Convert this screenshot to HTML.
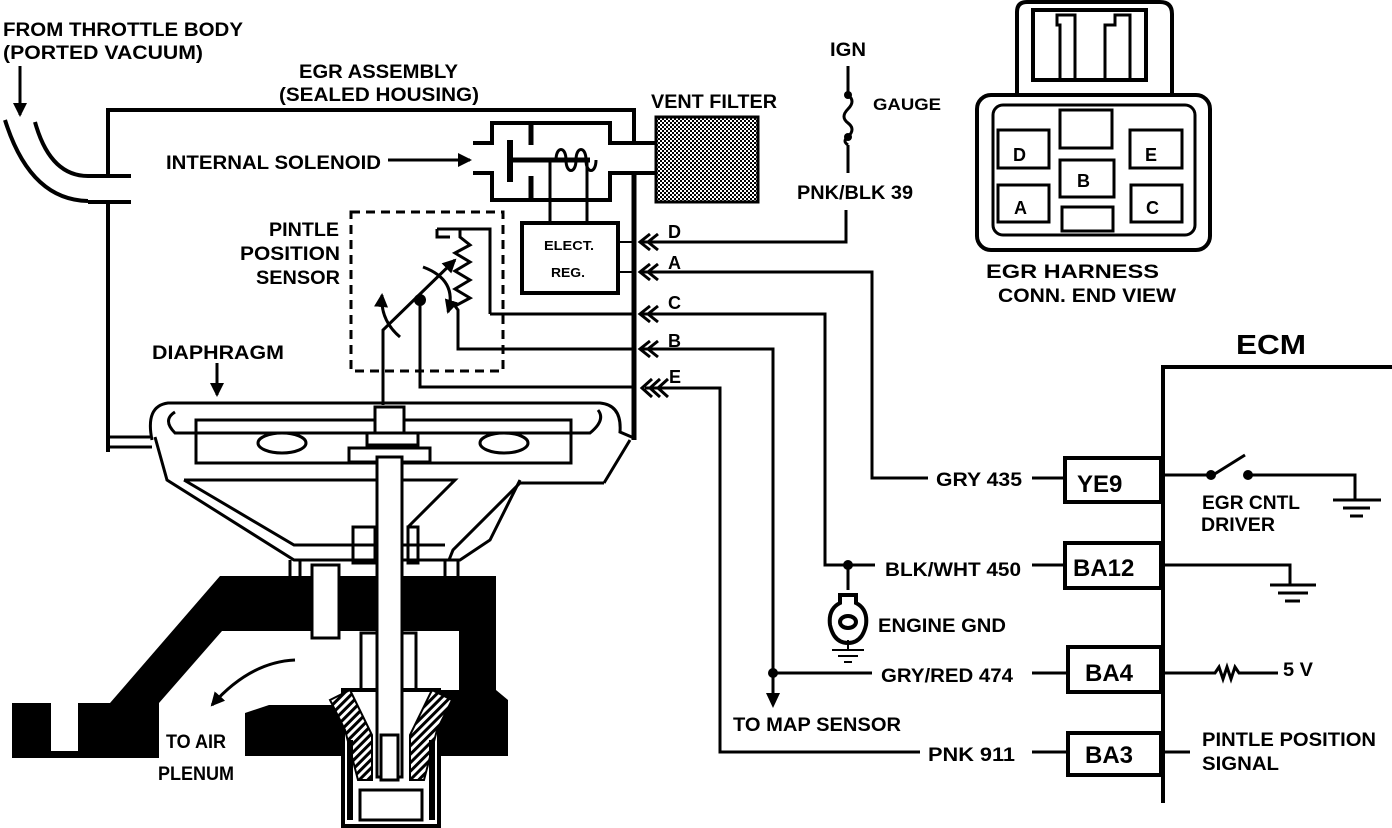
<!DOCTYPE html>
<html><head><meta charset="utf-8"><style>
html,body{margin:0;padding:0;background:#fff;}
svg{display:block}
text{font-family:"Liberation Sans",sans-serif;font-weight:bold;fill:#000;}
</style></head><body>
<svg width="1392" height="828" viewBox="0 0 1392 828" xmlns="http://www.w3.org/2000/svg">
<defs>
<pattern id="dots" width="4" height="4" patternUnits="userSpaceOnUse">
<rect width="4" height="4" fill="#fff"/><rect width="2" height="2" fill="#000"/><rect x="2" y="2" width="2" height="2" fill="#000"/>
</pattern>
<pattern id="hatch" width="6" height="6" patternUnits="userSpaceOnUse" patternTransform="rotate(45)">
<rect width="6" height="6" fill="#fff"/><rect width="3" height="6" fill="#000"/>
</pattern>
<marker id="ah2" markerWidth="14" markerHeight="14" refX="12" refY="7" orient="auto" markerUnits="userSpaceOnUse"><path d="M0,0 L14,7 L0,14 z" fill="#000"/></marker>
</defs>
<g font-size="19" lengthAdjust="spacingAndGlyphs">
<text x="3" y="36" textLength="240" lengthAdjust="spacingAndGlyphs">FROM THROTTLE BODY</text>
<text x="3" y="59" textLength="200" lengthAdjust="spacingAndGlyphs">(PORTED VACUUM)</text>
<text x="299" y="78" textLength="159" lengthAdjust="spacingAndGlyphs">EGR ASSEMBLY</text>
<text x="279" y="101" textLength="200" lengthAdjust="spacingAndGlyphs">(SEALED HOUSING)</text>
<text x="166" y="169" textLength="215" lengthAdjust="spacingAndGlyphs">INTERNAL SOLENOID</text>
<text x="269" y="236" textLength="70" lengthAdjust="spacingAndGlyphs">PINTLE</text>
<text x="240" y="260" textLength="100" lengthAdjust="spacingAndGlyphs">POSITION</text>
<text x="256" y="284" textLength="84" lengthAdjust="spacingAndGlyphs">SENSOR</text>
<text x="152" y="359" textLength="132" lengthAdjust="spacingAndGlyphs">DIAPHRAGM</text>
<text x="651" y="108" textLength="126" lengthAdjust="spacingAndGlyphs">VENT FILTER</text>
<text x="830" y="56" textLength="36" lengthAdjust="spacingAndGlyphs">IGN</text>
<text x="873" y="110" font-size="17" textLength="68" lengthAdjust="spacingAndGlyphs">GAUGE</text>
<text x="797" y="199" textLength="116" lengthAdjust="spacingAndGlyphs">PNK/BLK 39</text>
<text x="986" y="278" textLength="173" lengthAdjust="spacingAndGlyphs">EGR HARNESS</text>
<text x="998" y="302" textLength="178" lengthAdjust="spacingAndGlyphs">CONN. END VIEW</text>
<text x="1236" y="354" font-size="28" textLength="70" lengthAdjust="spacingAndGlyphs">ECM</text>
<text x="936" y="486" textLength="86" lengthAdjust="spacingAndGlyphs">GRY 435</text>
<text x="885" y="576" textLength="136" lengthAdjust="spacingAndGlyphs">BLK/WHT 450</text>
<text x="878" y="632" textLength="128" lengthAdjust="spacingAndGlyphs">ENGINE GND</text>
<text x="881" y="682" textLength="132" lengthAdjust="spacingAndGlyphs">GRY/RED 474</text>
<text x="733" y="731" textLength="168" lengthAdjust="spacingAndGlyphs">TO MAP SENSOR</text>
<text x="928" y="761" textLength="87" lengthAdjust="spacingAndGlyphs">PNK 911</text>
<text x="1202" y="509" textLength="98" lengthAdjust="spacingAndGlyphs">EGR CNTL</text>
<text x="1201" y="531" textLength="74" lengthAdjust="spacingAndGlyphs">DRIVER</text>
<text x="1283" y="676" textLength="30" lengthAdjust="spacingAndGlyphs">5 V</text>
<text x="1202" y="746" textLength="174" lengthAdjust="spacingAndGlyphs">PINTLE POSITION</text>
<text x="1202" y="770" textLength="77" lengthAdjust="spacingAndGlyphs">SIGNAL</text>
<text x="166" y="748" textLength="60" lengthAdjust="spacingAndGlyphs">TO AIR</text>
<text x="158" y="780" textLength="76" lengthAdjust="spacingAndGlyphs">PLENUM</text>
</g>
<text x="544" y="250" font-size="13" textLength="50" lengthAdjust="spacingAndGlyphs">ELECT.</text>
<text x="551" y="277" font-size="13" textLength="34" lengthAdjust="spacingAndGlyphs">REG.</text>
<g font-size="18">
<text x="668" y="238">D</text>
<text x="668" y="269">A</text>
<text x="668" y="309">C</text>
<text x="668" y="347">B</text>
<text x="669" y="383">E</text>
<text x="1013" y="161">D</text>
<text x="1145" y="161">E</text>
<text x="1014" y="214">A</text>
<text x="1146" y="214">C</text>
<text x="1077" y="187">B</text>
</g>
<g font-size="24">
<text x="1077" y="492">YE9</text>
<text x="1073" y="576">BA12</text>
<text x="1085" y="681">BA4</text>
<text x="1085" y="763">BA3</text>
</g>

<g fill="none" stroke="#000" stroke-width="4" stroke-linejoin="miter">
<path d="M5,120 Q30,200 88,201"/>
<path d="M35,122 Q50,176 88,176"/>
<path d="M88,176 H131 M88,202 H131"/>
<path d="M20,66 V115" stroke-width="3" marker-end="url(#ah2)"/>
<path d="M108,176 V110 H634 V143"/>
<path d="M108,202 V452"/>
<path d="M634,173 V440" stroke-width="5"/>
<path d="M388,160 H470" stroke-width="3" marker-end="url(#ah2)"/>
<path d="M473,143 H492 V123 H610 V143 H655 M473,173 H492 V200 H610 V173 H655"/>
<path d="M510,140 V182" stroke-width="6"/>
<path d="M510,160 H590" stroke-width="5"/>
<path d="M531,123 V145 M531,176 V200" stroke-width="5"/>
<path d="M556,160 c0,-14 10,-14 10,0 c0,14 10,14 10,0 c0,-14 10,-14 10,0 c0,14 10,14 10,0" stroke-width="3"/>
<path d="M550,160 V222 M587,160 V222" stroke-width="3"/>
<rect x="656" y="117" width="102" height="85" fill="url(#dots)" stroke-width="3"/>
<rect x="522" y="223" width="96" height="70"/>
<path d="M618,242 H634 M618,272 H634" stroke-width="2"/>
<rect x="351" y="212" width="152" height="159" stroke-width="3" stroke-dasharray="9,6"/>
<path d="M437,229 H460 V237 L470,245 L455,253 L470,262 L455,271 L470,280 L455,289 L470,298 L455,306 L458,310 V349 H634" stroke-width="3"/>
<path d="M437,229 V237 H450" stroke-width="3"/>
<path d="M490,314 H634" stroke-width="3"/>
<path d="M490,314 V229 H460" stroke-width="3"/>
<path d="M383,405 V330 L455,260" stroke-width="3" marker-end="url(#ah2)"/>
<path d="M420,300 V387 H634" stroke-width="3"/>
<path d="M400,337 Q380,320 382,295" stroke-width="3" marker-end="url(#ah2)"/>
<path d="M423,267 Q458,280 448,312" stroke-width="3" marker-end="url(#ah2)"/>
<path d="M217,363 V395" stroke-width="3" marker-end="url(#ah2)"/>
</g>
<circle cx="420" cy="300" r="6"/>
<g fill="none" stroke="#000" stroke-width="3">
<path d="M650,234 l-10,8 l10,8 M658,234 l-10,8 l10,8"/>
<path d="M650,264 l-10,8 l10,8 M658,264 l-10,8 l10,8"/>
<path d="M650,306 l-10,8 l10,8 M658,306 l-10,8 l10,8"/>
<path d="M650,341 l-10,8 l10,8 M658,341 l-10,8 l10,8"/>
<path d="M652,379 l-10,9 l10,9 M660,379 l-10,9 l10,9 M668,379 l-10,9 l10,9"/>
<path d="M642,242 H846 V210"/>
<path d="M642,272 H872 V478 H928 M1032,478 H1063"/>
<path d="M642,314 H825 V565 H875 M1032,565 H1063"/>
<path d="M642,349 H773 V673 H872 M1032,673 H1068"/>
<path d="M645,388 H720 V752 H920 M1032,752 H1068"/>
<path d="M848,66 V95 M848,145 V173"/>
<path d="M848,95 q8,6 0,14 q-8,8 0,14 q8,6 0,14 q-6,4 0,8"/>
<path d="M848,565 V590"/>
</g>
<circle cx="848" cy="95" r="4"/><circle cx="848" cy="137" r="4"/>
<circle cx="848" cy="565" r="5"/><circle cx="773" cy="673" r="5"/>
<path d="M773,673 V695" stroke="#000" stroke-width="3"/>
<path d="M766,693 L773,708 L780,693 z"/>
<g fill="none" stroke="#000" stroke-width="4">
<path d="M840,595 h16 v8 q12,6 10,22 q-4,18 -18,18 q-14,0 -18,-18 q-2,-16 10,-22 z"/>
<ellipse cx="848" cy="622" rx="8" ry="6"/>
<path d="M848,640 V650 M832,650 H864 M838,656 H858 M844,662 H852" stroke-width="2"/>
</g>
<g fill="none" stroke="#000" stroke-width="4">
<path d="M1163,367 H1392 M1163,365 V803"/>
<rect x="1065" y="458" width="96" height="44"/>
<rect x="1065" y="543" width="96" height="45"/>
<rect x="1068" y="647" width="93" height="45"/>
<rect x="1068" y="733" width="93" height="42"/>
<path d="M1163,475 H1210 M1247,475 H1355 V500 M1163,565 H1290 V585 M1163,673 H1215 l4,-6 l4,12 l4,-12 l4,12 l4,-12 l4,6 H1278 M1163,752 H1190" stroke-width="3"/>
<path d="M1213,475 L1245,455" stroke-width="3"/>
<path d="M1333,500 H1381 M1343,508 H1370 M1350,516 H1363 M1270,585 H1316 M1278,593 H1308 M1285,601 H1300" stroke-width="3"/>
</g>
<circle cx="1211" cy="475" r="5"/><circle cx="1248" cy="475" r="5"/>
<g fill="none" stroke="#000" stroke-width="4">
<path d="M1017,95 V12 q0,-10 10,-10 H1160 q12,0 12,12 V95"/>
<rect x="1033" y="10" width="113" height="70"/>
<path d="M1060,80 V25 H1057 V15 H1075 V80 M1105,80 V25 H1115 V15 H1130 V25 V80" stroke-width="3"/>
<rect x="977" y="95" width="233" height="155" rx="14"/>
<rect x="993" y="105" width="202" height="130" rx="10" stroke-width="3"/>
<rect x="998" y="130" width="51" height="38" stroke-width="3"/>
<rect x="1130" y="130" width="52" height="38" stroke-width="3"/>
<rect x="998" y="185" width="51" height="37" stroke-width="3"/>
<rect x="1131" y="185" width="51" height="37" stroke-width="3"/>
<rect x="1060" y="160" width="54" height="37" stroke-width="3"/>
<rect x="1060" y="110" width="52" height="38" stroke-width="3"/>
<rect x="1062" y="207" width="51" height="24" stroke-width="3"/>
</g>
<!-- diaphragm housing -->
<g fill="none" stroke="#000" stroke-width="3">
<path d="M108,437 H150 M108,447 H152"/>
<path d="M152,440 Q145,406 168,403 H600 Q622,405 620,432 L634,438"/>
<path d="M155,437 L167,480 L294,560 H460 L490,540 L520,480 M604,483 L630,440"/>
<path d="M175,412 Q162,420 175,433 H590 Q606,420 598,410"/>
<rect x="196" y="420" width="375" height="43"/>
<ellipse cx="282" cy="443" rx="24" ry="10"/>
<ellipse cx="504" cy="443" rx="24" ry="10"/>
<path d="M184,480 H455 L408,527 M184,480 L294,545 H445 M604,483 H520 L453,550 L449,560"/>
<rect x="353" y="527" width="22" height="36"/>
<rect x="408" y="527" width="10" height="36"/>
<path d="M290,560 V576 M300,560 V576 M445,560 V576 M458,560 V576"/>
</g>
<rect x="375" y="407" width="29" height="50" fill="#fff" stroke="#000" stroke-width="3"/>
<rect x="367" y="433" width="51" height="12" fill="#fff" stroke="#000" stroke-width="3"/>
<rect x="349" y="448" width="81" height="14" fill="#fff" stroke="#000" stroke-width="3"/>
<!-- black body -->
<path fill="#000" d="M12,703 H110 L220,576 H496 V690 L508,700 V756 H245 V713 L269,705 H347 V690 H459 V631 H222 L159,703 V758 H12 z"/>
<rect x="51" y="703" width="27" height="48" fill="#fff"/>
<rect x="312" y="565" width="27" height="73" fill="#fff" stroke="#000" stroke-width="3"/>
<rect x="361" y="633" width="55" height="59" fill="#fff" stroke="#000" stroke-width="3"/>
<!-- valve seat -->
<rect x="343" y="690" width="96" height="136" fill="#fff" stroke="#000" stroke-width="4"/>
<path d="M330,700 L350,690 L372,735 V780 H358 L345,730 z M452,700 L432,690 L410,735 V780 H424 L437,730 z" fill="url(#hatch)" stroke="#000" stroke-width="2"/>
<path d="M350,740 V820 M432,740 V820" stroke="#000" stroke-width="6"/>
<rect x="360" y="790" width="62" height="30" fill="#fff" stroke="#000" stroke-width="3"/>
<rect x="377" y="457" width="25" height="320" fill="#fff" stroke="#000" stroke-width="3"/>
<rect x="381" y="735" width="17" height="45" fill="#fff" stroke="#000" stroke-width="3"/>
<path d="M295,660 Q250,662 212,705" fill="none" stroke="#000" stroke-width="3" marker-end="url(#ah2)"/>
</svg>
</body></html>
